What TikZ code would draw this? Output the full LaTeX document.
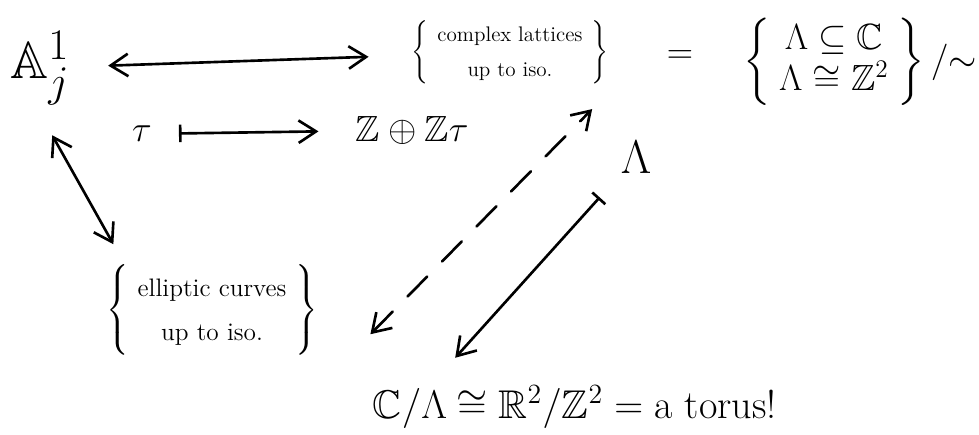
\documentclass[tikz,border=0pt]{standalone}
\usepackage{amsmath, amssymb}
\usepackage{tikz}
\usetikzlibrary{arrows.meta}

\tikzset{
  pen/.style={line width=1.5pt, line cap=round},
  setlbl/.style={font=\large},
  mathlbl/.style={font=\huge},
  mapsto/.style={arrows={Bar[width=3.5mm]->}}
}

\begin{document}
\begin{tikzpicture}[x=0.02cm, y=-0.02cm, pen, >={Straight Barb[length=3.5mm,width=4.5mm]}]
  \useasboundingbox (0,0) rectangle (979,435);
  \node[scale=1.2] (A) at (40,68) {\Huge $\mathbb{A}^1_j$};
  \node[setlbl, inner sep=1pt] (lat) at (510,52) {$\left\{\renewcommand{\arraystretch}{1.4}\begin{array}{c}\text{complex lattices}\\ \text{up to iso.}\end{array}\right\}$};
  \node[mathlbl] (eq) at (680,57) {$=$};
  \node[mathlbl, inner sep=1pt] (quot) at (860,62) {$\left\{\renewcommand{\arraystretch}{0.9}\begin{array}{c}\Lambda\subseteq\mathbb{C}\\ \Lambda\cong\mathbb{Z}^2\end{array}\right\}/{\sim}$};
  \node[mathlbl] (tau) at (142,134) {$\tau$};
  \node[mathlbl] (ztau) at (412,130) {$\mathbb{Z}\oplus\mathbb{Z}\tau$};
  \node[font=\Large] (ell) at (212,310) {$\left\{\renewcommand{\arraystretch}{1.4}\begin{array}{c}\text{elliptic curves}\\ \text{up to iso.}\end{array}\right\}$};
  \node[mathlbl, scale=1.3] (lam) at (636,157) {$\Lambda$};
  \node[mathlbl, scale=1.1] (CL) at (410,408) {$\mathbb{C}/\Lambda$};
  \node[mathlbl, scale=1.1, anchor=base west, inner xsep=0pt] (torus) at (CL.base east) {$\cong\mathbb{R}^2/\mathbb{Z}^2=\text{a torus!}$};

  \draw[<->, shorten <=0.6cm, shorten >=0.8cm] (A) -- (lat);
  \draw[mapsto, shorten <=0.4cm, shorten >=0.6cm] (tau) -- (ztau);
  \draw[<->, shorten <=0.5cm, shorten >=0.3cm] (A.south) -- (ell.150);
  \draw[<->, dash pattern=on 16pt off 12pt, shorten <=0.8cm, shorten >=0.55cm] ([xshift=0.35cm]ell.south east) -- (lat.south east);
  \draw[mapsto, shorten <=0.4cm, shorten >=0.6cm] (lam) -- (CL);
\end{tikzpicture}
\end{document}
